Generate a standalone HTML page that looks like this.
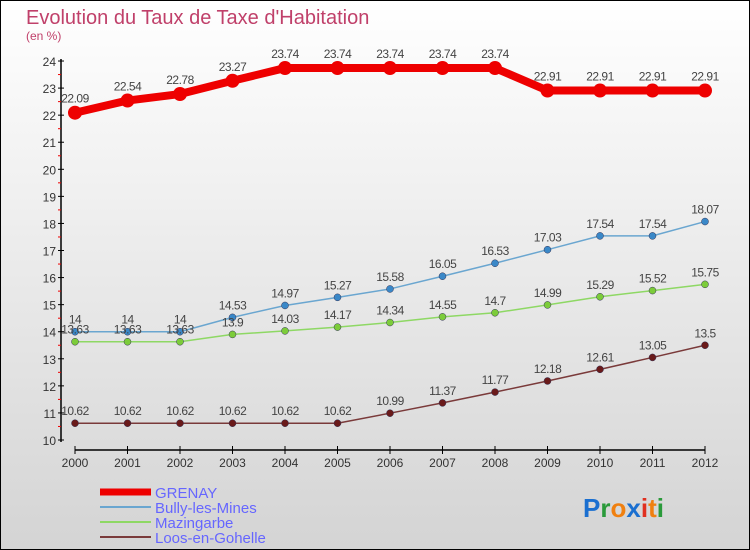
<!DOCTYPE html>
<html><head><meta charset="utf-8"><style>
html,body{margin:0;padding:0;}
body{width:750px;height:550px;overflow:hidden;font-family:"Liberation Sans",sans-serif;}
svg{display:block;}
</style></head><body>
<svg id="chart" width="750" height="550" xmlns="http://www.w3.org/2000/svg">
<defs><linearGradient id="bg" x1="0" y1="0" x2="0" y2="1"><stop offset="0" stop-color="#ffffff"/><stop offset="1" stop-color="#d4d4d4"/></linearGradient></defs>
<rect x="0.5" y="0.5" width="749" height="549" fill="url(#bg)" stroke="#000"/>
<text x="26" y="24" font-size="20" fill="#c0406a">Evolution du Taux de Taxe d'Habitation</text>
<text x="26" y="40" font-size="12" fill="#c0406a">(en %)</text>
<g id="axes"></g><g id="series"></g><g id="legend"></g>
<text x="583" y="517" font-size="26" font-weight="bold"><tspan fill="#1a6fd0">P</tspan><tspan fill="#2a9a3a">r</tspan><tspan fill="#f08010">o</tspan><tspan fill="#1a6fd0">x</tspan><tspan fill="#e03020">i</tspan><tspan fill="#f08010">t</tspan><tspan fill="#2a9a3a">i</tspan></text>
</svg>
<script>
const years=[2000,2001,2002,2003,2004,2005,2006,2007,2008,2009,2010,2011,2012];
const grenay=[22.09,22.54,22.78,23.27,23.74,23.74,23.74,23.74,23.74,22.91,22.91,22.91,22.91];
const bully=[14,14,14,14.53,14.97,15.27,15.58,16.05,16.53,17.03,17.54,17.54,18.07];
const mazingarbe=[13.63,13.63,13.63,13.9,14.03,14.17,14.34,14.55,14.7,14.99,15.29,15.52,15.75];
const loos=[10.62,10.62,10.62,10.62,10.62,10.62,10.99,11.37,11.77,12.18,12.61,13.05,13.5];
const yTicks=[10,11,12,13,14,15,16,17,18,19,20,21,22,23,24];
const seriesNames=["GRENAY","Bully-les-Mines","Mazingarbe","Loos-en-Gohelle"];
const NS="http://www.w3.org/2000/svg";
const x=i=>75+i*52.5;
const y=v=>440-(v-10)*27.07;
function mk(tag,attrs,parent){const e=document.createElementNS(NS,tag);for(const k in attrs)e.setAttribute(k,attrs[k]);parent.appendChild(e);return e;}
const ax=document.getElementById('axes');
let l=mk('line',{x1:61,y1:y(24)-2,x2:61,y2:442,stroke:'#000','stroke-width':1.5},ax);


l=mk('line',{x1:75,y1:450,x2:705,y2:450,stroke:'#000','stroke-width':1.5},ax);


yTicks.forEach(v=>{
 mk('line',{x1:58,y1:y(v),x2:64,y2:y(v),stroke:'#000'},ax);
 if(v<24) mk('line',{x1:58,y1:y(v+0.5),x2:61,y2:y(v+0.5),stroke:'#e00'},ax);
 const t=mk('text',{x:56,y:y(v)+5,'font-size':12,fill:'#333','text-anchor':'end'},ax);t.textContent=v;
 
 
});
years.forEach((yr,i)=>{
 mk('line',{x1:x(i),y1:446,x2:x(i),y2:454,stroke:'#000'},ax);
 const t=mk('text',{x:x(i),y:467,'font-size':12,fill:'#333','text-anchor':'middle'},ax);t.textContent=yr;
 
 
});
const sg=document.getElementById('series');
const defs=[[grenay,'#ee0000',8,7,'grenay'],[bully,'#6aa6d0',1.5,3.5,'bully'],[mazingarbe,'#8ed864',1.5,3.5,'mazingarbe'],[loos,'#7a3a3a',1.5,3.5,'loos']];
const dotCol=['#ee0000','#3a88c8','#7ccc3a','#6a1a1a'];
defs.forEach((d,si)=>{
 const [vals,col,w,r,nm]=d;
 const p=mk('polyline',{points:vals.map((v,i)=>x(i)+','+y(v)).join(' '),fill:'none',stroke:col,'stroke-width':w,'stroke-linejoin':'round'},sg);
 
 
 vals.forEach((v,i)=>{
  const c=mk('circle',{cx:x(i),cy:y(v),r:r,fill:dotCol[si],stroke:si?'#335':'none','stroke-width':0.5},sg);
  
  
  const t=mk('text',{x:x(i),y:y(v)-(si==0?10:8),'font-size':12,fill:'#444','text-anchor':'middle','letter-spacing':'-0.5'},sg);
  t.textContent=v;
  
  
 });
});
const lg=document.getElementById('legend');
seriesNames.forEach((n,i)=>{
 const ly=492+i*15;
 const ln=mk('line',{x1:100,y1:ly,x2:151,y2:ly,stroke:defs[i][1],'stroke-width':i==0?7:2},lg);
 
 
 const t=mk('text',{x:155,y:ly+6,'font-size':15,fill:'#6666ff'},lg);t.textContent=n;
 
 
});
</script>
</body></html>
